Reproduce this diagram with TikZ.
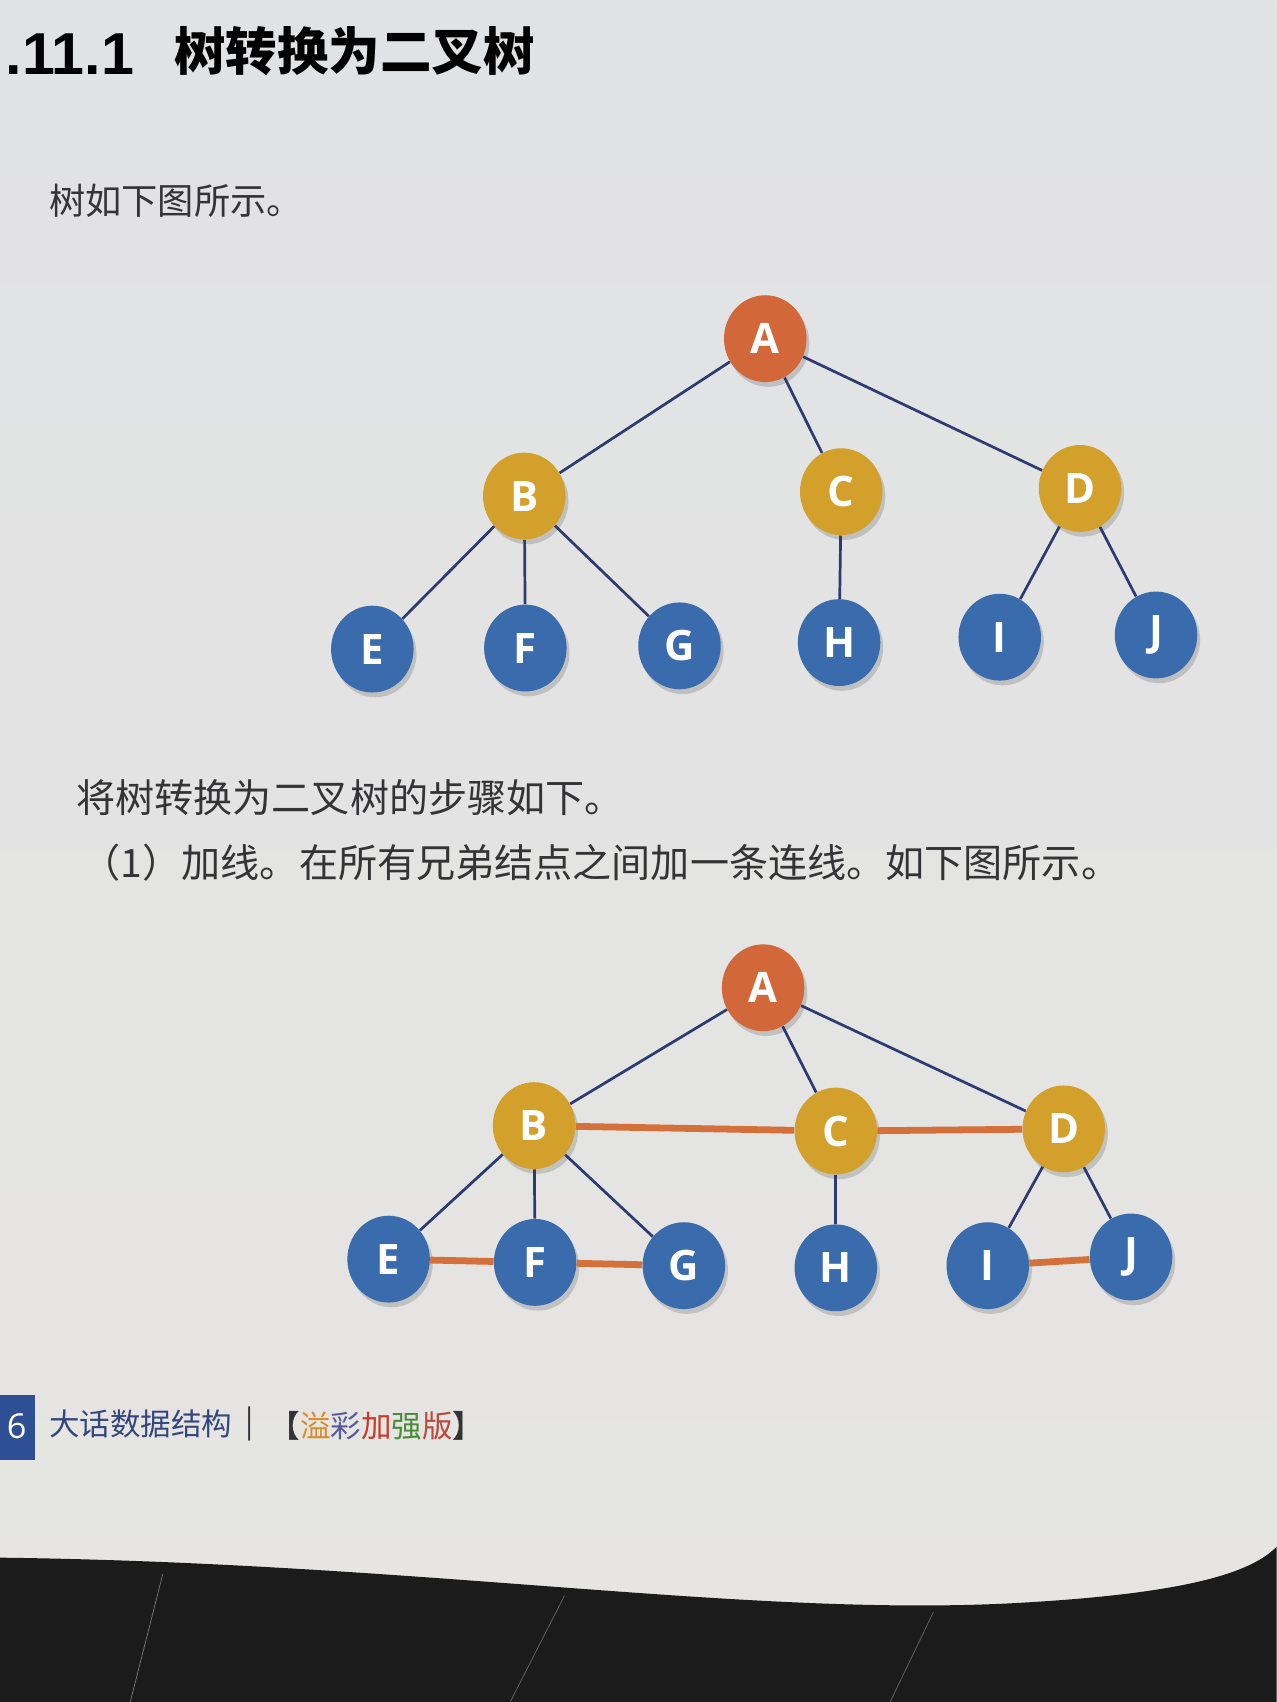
\documentclass[tikz,border=0pt]{standalone}
\usepackage{fontspec}
\usepackage{tikz}
\usetikzlibrary{shadows,shapes.geometric}
\newfontfamily\cjk{Noto Sans CJK SC}
\newfontfamily\latinb{Liberation Sans}
\newfontfamily\nodefont{Open Sans}
\definecolor{pagebg}{HTML}{E1E2E4}
\definecolor{pagelow}{HTML}{E6E5E2}
\definecolor{tabledark}{HTML}{1B1B1C}
\definecolor{rootred}{HTML}{D2683A}
\definecolor{midgold}{HTML}{D3A02C}
\definecolor{leafblue}{HTML}{3A6CAD}
\definecolor{edgenavy}{HTML}{2E3B70}
\definecolor{sibling}{HTML}{D4703A}
\definecolor{inkgrey}{HTML}{343436}
\definecolor{footblue}{HTML}{2F4F95}
\definecolor{footink}{HTML}{34467C}
\begin{document}
\begin{tikzpicture}[x=0.2mm,y=-0.2mm,
  tnode/.style={ellipse,minimum width=15.2mm,minimum height=16mm,inner sep=0,text=white,
    font=\nodefont\bfseries\fontsize{22}{22}\selectfont,
    drop shadow={shadow xshift=1.5pt,shadow yshift=-2.5pt,opacity=0.35}},
  root/.style={tnode,fill=rootred},
  mid/.style={tnode,fill=midgold},
  leaf/.style={tnode,fill=leafblue},
  link/.style={edgenavy,line width=0.5mm},
  brother/.style={sibling,line width=1.25mm},
  para/.style={anchor=west,inner sep=0,text=inkgrey}]
\useasboundingbox (0,0) rectangle (1176,1568);
%page
\shade[top color=pagebg,bottom color=pagelow] (0,0) rectangle (1176,1568);
\fill[tabledark] (0,1435) .. controls (400,1440) and (700,1492) .. (950,1476)
  .. controls (1080,1468) and (1150,1452) .. (1176,1425) -- (1176,1568) -- (0,1568) -- cycle;
\draw[gray!40,opacity=0.5] (150,1450) -- (120,1568);
\draw[gray!40,opacity=0.4] (520,1470) -- (470,1568);
\draw[gray!40,opacity=0.4] (860,1485) -- (820,1568);
%heading
\node[para,text=black] (num) at (5,50) {\latinb\bfseries\fontsize{31}{31}\selectfont .11.1};
\node[para,text=black] (title) at (160,47) {\cjk\bfseries\fontsize{27}{27}\selectfont 树转换为二叉树};
\node[para] (intro) at (45,185) {\cjk\fontsize{19}{19}\selectfont 树如下图所示。};
%tree 1
\node[root] (a1) at (705,312) {A};
\node[mid] (b1) at (483,457) {B};
\node[mid] (c1) at (775,453) {C};
\node[mid] (d1) at (995,450) {D};
\node[leaf] (e1) at (343,598) {E};
\node[leaf] (f1) at (484,597) {F};
\node[leaf] (g1) at (626,595) {G};
\node[leaf] (h1) at (773,592) {H};
\node[leaf] (i1) at (921,587) {I};
\node[leaf] (j1) at (1065,585) {J};
\draw[link] (a1) -- (b1);
\draw[link] (a1) -- (c1);
\draw[link] (a1) -- (d1);
\draw[link] (b1) -- (e1);
\draw[link] (b1) -- (f1);
\draw[link] (b1) -- (g1);
\draw[link] (c1) -- (h1);
\draw[link] (d1) -- (i1);
\draw[link] (d1) -- (j1);
%steps
\node[para] (steps) at (70,735) {\cjk\fontsize{20.5}{20.5}\selectfont 将树转换为二叉树的步骤如下。};
\node[para] (step1) at (75,795) {\cjk\fontsize{20.5}{20.5}\selectfont （1）加线。在所有兄弟结点之间加一条连线。如下图所示。};
%tree 2
\node[root] (a2) at (703,910) {A};
\node[mid] (b2) at (492,1037) {B};
\node[mid] (c2) at (770,1042) {C};
\node[mid] (d2) at (980,1040) {D};
\node[leaf] (e2) at (358,1160) {E};
\node[leaf] (f2) at (493,1163) {F};
\node[leaf] (g2) at (630,1166) {G};
\node[leaf] (h2) at (770,1168) {H};
\node[leaf] (i2) at (910,1166) {I};
\node[leaf] (j2) at (1042,1158) {J};
\draw[link] (a2) -- (b2);
\draw[link] (a2) -- (c2);
\draw[link] (a2) -- (d2);
\draw[link] (b2) -- (e2);
\draw[link] (b2) -- (f2);
\draw[link] (b2) -- (g2);
\draw[link] (c2) -- (h2);
\draw[link] (d2) -- (i2);
\draw[link] (d2) -- (j2);
\draw[brother] (b2) -- (c2);
\draw[brother] (c2) -- (d2);
\draw[brother] (e2) -- (f2);
\draw[brother] (f2) -- (g2);
\draw[brother] (i2) -- (j2);
%footer
\fill[footblue] (-5,1285) rectangle (32,1345);
\node[para,text=white] (page) at (6,1314) {\nodefont\fontsize{18}{18}\selectfont 6};
\node[para,text=footink] (book) at (45,1312) {\cjk\fontsize{16}{16}\selectfont 大话数据结构};
\node[para] (bar) at (226,1312) {\cjk\fontsize{16}{16}\selectfont |};
\node[para] (edition) at (248,1314) {\cjk\fontsize{16}{16}\selectfont \textbf{【}\textcolor[HTML]{D98A2B}{溢}\textcolor[HTML]{5B5A98}{彩}\textcolor[HTML]{C93A2C}{加}\textcolor[HTML]{4C8A3C}{强}\textcolor[HTML]{B9473A}{版}\textbf{】}};
\end{tikzpicture}
\end{document}
